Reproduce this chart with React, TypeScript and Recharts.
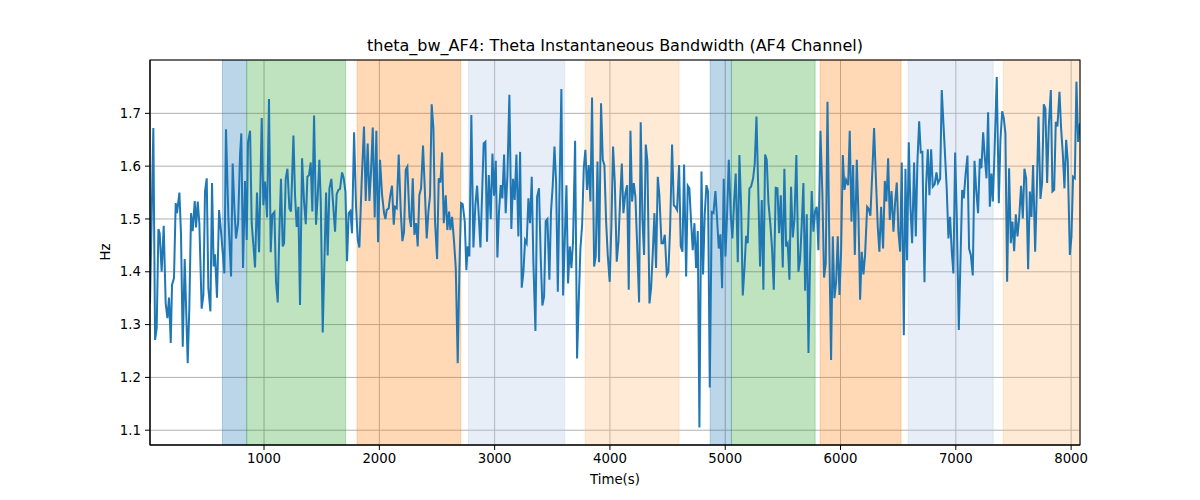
import React from 'react';
import { ComposedChart, Line, XAxis, YAxis, CartesianGrid, ReferenceArea } from 'recharts';

const TIME_S: number[] = [
  11, 40, 55, 69, 84, 95, 112, 130, 147, 162, 176, 191, 202, 219, 234, 245, 266, 280, 295, 312,
  338, 352, 367, 381, 399, 410, 425, 439, 459, 474, 488, 503, 517, 535, 549, 563, 575, 592, 610, 627,
  656, 670, 691, 714, 728, 743, 757, 775, 792, 803, 818, 835, 850, 861, 879, 893, 910, 922, 939, 957,
  980, 994, 1009, 1026, 1043, 1058, 1072, 1090, 1104, 1119, 1133, 1147, 1162,
  1174, 1188, 1203, 1220, 1234, 1255, 1269, 1283, 1298, 1312, 1330, 1347, 1362, 1376, 1390, 1405, 1419, 1434, 1451, 1466,
  1480, 1492, 1509, 1538, 1552, 1567, 1584, 1601, 1616, 1630, 1645, 1659, 1677, 1691, 1706, 1720, 1734, 1749, 1763, 1781,
  1798, 1813, 1827, 1847, 1867, 1882, 1899, 1914, 1928, 1943, 1960, 1974, 1989, 2006, 2024, 2041, 2053, 2064, 2081, 2093,
  2110, 2125, 2136, 2151, 2168, 2186, 2200, 2214, 2229, 2243, 2261, 2275, 2290, 2304, 2319, 2333,
  2347, 2362, 2379, 2394, 2411, 2426, 2440, 2454, 2469, 2483, 2501, 2515, 2530, 2544, 2559, 2576, 2590, 2605, 2616, 2631,
  2648, 2663, 2680, 2694, 2709, 2723, 2741, 2755, 2767, 2781, 2798, 2816, 2833, 2848, 2862, 2877, 2891, 2905, 2920, 2934,
  2949, 2966, 2981, 2995, 3010, 3024, 3038, 3053, 3067, 3082, 3096, 3111, 3128, 3145, 3160, 3174, 3189, 3206, 3221, 3235,
  3250, 3264, 3278, 3293, 3307, 3322, 3336, 3354, 3368, 3385, 3400, 3414, 3429, 3443, 3458, 3475, 3489, 3504, 3519,
  3533, 3548, 3562, 3579, 3594, 3608, 3623, 3637, 3652, 3666, 3680, 3698, 3715, 3730, 3744, 3759, 3773, 3787, 3802, 3816,
  3831, 3845, 3863, 3877, 3892, 3906, 3923, 3938, 3952, 3967, 3981, 3998, 4013, 4027, 4042, 4059, 4074, 4088, 4103, 4117,
  4134, 4149, 4163, 4178, 4192, 4207, 4221, 4236, 4253, 4267, 4282, 4296, 4311, 4325, 4343, 4357, 4371, 4386, 4400, 4415,
  4429, 4447, 4461, 4476, 4493, 4507, 4522, 4539, 4554, 4568, 4582, 4600, 4614, 4629, 4643, 4661, 4675, 4689,
  4704, 4718, 4733, 4747, 4762, 4776, 4794, 4808, 4822, 4837, 4851, 4866, 4883, 4898, 4915, 4929, 4944, 4958, 4973, 4987,
  5002, 5016, 5031, 5048, 5062, 5077, 5091, 5109, 5123, 5138, 5152, 5167, 5181, 5195, 5210, 5224, 5242, 5256, 5271, 5285,
  5302, 5317, 5331, 5346, 5360, 5375, 5392, 5406, 5421, 5438, 5453, 5467, 5482, 5499, 5513, 5528, 5542, 5557, 5571, 5586,
  5600, 5617, 5635, 5649, 5664, 5678, 5693, 5707, 5722, 5736, 5750, 5765, 5779, 5794, 5808, 5826, 5843, 5857,
  5872, 5887, 5904, 5918, 5933, 5947, 5962, 5976, 5991, 6005, 6020, 6034, 6048, 6066, 6080, 6095, 6109, 6124, 6141, 6155,
  6170, 6184, 6199, 6213, 6231, 6245, 6259, 6277, 6291, 6309, 6323, 6337, 6352, 6369, 6384, 6398, 6413, 6427, 6442, 6459,
  6473, 6488, 6502, 6517, 6531, 6549, 6563, 6577, 6592, 6606, 6621, 6638, 6653, 6667, 6682, 6696, 6710, 6728, 6742, 6757,
  6771, 6786, 6800, 6817, 6832, 6846, 6864, 6878, 6921, 6936, 6950, 6965, 6979, 6994, 7008, 7026,
  7040, 7055, 7069, 7084, 7101, 7115, 7130, 7147, 7162, 7176, 7193, 7208, 7222, 7237, 7251, 7266, 7280, 7295, 7309, 7321,
  7335, 7355, 7373, 7387, 7402, 7416, 7430, 7445, 7462, 7477, 7491, 7506, 7520, 7535, 7549, 7566, 7581, 7595, 7610, 7627,
  7642, 7656, 7670, 7688, 7702, 7717, 7734, 7748, 7763, 7777, 7792, 7806, 7824, 7838, 7853, 7867, 7881, 7899, 7913, 7928,
  7942, 7957, 7971, 7989, 8003, 8017, 8032, 8046, 8061, 8077,
];

const THETA_BW_HZ: number[] = [
  1.340, 1.672, 1.271, 1.293, 1.481, 1.473, 1.400, 1.487, 1.340, 1.312, 1.351, 1.265, 1.375, 1.388, 1.530, 1.511, 1.550, 1.470, 1.258, 1.424,
  1.227, 1.331, 1.511, 1.477, 1.534, 1.484, 1.533, 1.492, 1.330, 1.356, 1.552, 1.577, 1.369, 1.325, 1.568, 1.410, 1.433, 1.351, 1.517, 1.476,
  1.397, 1.670, 1.501, 1.391, 1.605, 1.520, 1.463, 1.492, 1.622, 1.662, 1.407, 1.572, 1.460, 1.645, 1.667, 1.492, 1.444, 1.408, 1.550, 1.437,
  1.691, 1.526, 1.571, 1.503, 1.727, 1.437, 1.508, 1.513, 1.381, 1.342, 1.476, 1.576, 1.448,
  1.454, 1.576, 1.595, 1.520, 1.514, 1.658, 1.545, 1.485, 1.523, 1.337, 1.615, 1.533, 1.490, 1.580, 1.583, 1.607, 1.514, 1.696, 1.489, 1.545,
  1.612, 1.533, 1.285, 1.550, 1.431, 1.558, 1.576, 1.523, 1.476, 1.547, 1.555, 1.557, 1.588, 1.577, 1.552, 1.420, 1.511, 1.515, 1.473, 1.664,
  1.523, 1.460, 1.446, 1.572, 1.675, 1.534, 1.643, 1.534, 1.590, 1.673, 1.503, 1.667, 1.456, 1.612, 1.545, 1.511, 1.500, 1.517, 1.520, 1.542,
  1.563, 1.489, 1.523, 1.520, 1.622, 1.514, 1.458, 1.475, 1.593, 1.599, 1.504, 1.485, 1.577, 1.470, 1.492, 1.448,
  1.545, 1.558, 1.639, 1.558, 1.463, 1.515, 1.545, 1.717, 1.672, 1.495, 1.424, 1.577, 1.569, 1.626, 1.492, 1.545, 1.479, 1.514, 1.479, 1.504,
  1.457, 1.407, 1.227, 1.400, 1.530, 1.528, 1.495, 1.403, 1.448, 1.429, 1.697, 1.446, 1.526, 1.563, 1.508, 1.446, 1.545, 1.643, 1.646, 1.457,
  1.583, 1.500, 1.624, 1.544, 1.610, 1.427, 1.514, 1.564, 1.539, 1.622, 1.511, 1.583, 1.735, 1.481, 1.576, 1.536, 1.622, 1.467, 1.627, 1.370,
  1.400, 1.460, 1.454, 1.539, 1.492, 1.580, 1.419, 1.288, 1.542, 1.558, 1.426, 1.336, 1.353, 1.496, 1.500, 1.385, 1.514, 1.564, 1.637,
  1.571, 1.362, 1.545, 1.746, 1.355, 1.457, 1.564, 1.378, 1.448, 1.407, 1.457, 1.648, 1.236, 1.347, 1.444, 1.489, 1.596, 1.631, 1.555, 1.602,
  1.533, 1.730, 1.410, 1.429, 1.609, 1.418, 1.719, 1.612, 1.602, 1.495, 1.432, 1.381, 1.489, 1.637, 1.571, 1.419, 1.457, 1.533, 1.605, 1.511,
  1.549, 1.564, 1.366, 1.667, 1.533, 1.568, 1.542, 1.451, 1.342, 1.683, 1.501, 1.432, 1.641, 1.609, 1.340, 1.369, 1.432, 1.511, 1.407, 1.580,
  1.545, 1.454, 1.454, 1.470, 1.394, 1.400, 1.482, 1.641, 1.526, 1.523, 1.517, 1.602, 1.448, 1.438, 1.603, 1.391, 1.563, 1.558,
  1.495, 1.441, 1.492, 1.407, 1.477, 1.105, 1.590, 1.395, 1.508, 1.564, 1.552, 1.181, 1.513, 1.511, 1.553, 1.501, 1.444, 1.471, 1.369, 1.576,
  1.429, 1.508, 1.612, 1.508, 1.463, 1.533, 1.586, 1.418, 1.621, 1.523, 1.355, 1.407, 1.468, 1.454, 1.558, 1.561, 1.577, 1.605, 1.694, 1.568,
  1.410, 1.536, 1.366, 1.622, 1.612, 1.530, 1.489, 1.444, 1.366, 1.559, 1.558, 1.473, 1.545, 1.408, 1.595, 1.448, 1.454, 1.385, 1.561, 1.465,
  1.498, 1.621, 1.400, 1.422, 1.492, 1.568, 1.364, 1.509, 1.246, 1.426, 1.553, 1.476, 1.514, 1.523, 1.441, 1.667, 1.545, 1.389,
  1.416, 1.722, 1.432, 1.233, 1.467, 1.350, 1.381, 1.467, 1.356, 1.438, 1.621, 1.555, 1.574, 1.564, 1.667, 1.495, 1.602, 1.432, 1.612, 1.511,
  1.347, 1.438, 1.395, 1.432, 1.523, 1.519, 1.506, 1.596, 1.672, 1.564, 1.485, 1.438, 1.523, 1.444, 1.572, 1.533, 1.615, 1.498, 1.553, 1.476,
  1.530, 1.569, 1.476, 1.438, 1.607, 1.280, 1.595, 1.422, 1.645, 1.526, 1.454, 1.607, 1.467, 1.609, 1.685, 1.626, 1.627, 1.380, 1.561, 1.632,
  1.545, 1.632, 1.561, 1.566, 1.588, 1.568, 1.576, 1.744, 1.558, 1.463, 1.504, 1.438, 1.397, 1.626, 1.508, 1.290,
  1.419, 1.555, 1.539, 1.583, 1.620, 1.444, 1.432, 1.393, 1.610, 1.558, 1.511, 1.614, 1.596, 1.664, 1.618, 1.577, 1.702, 1.523, 1.586, 1.533,
  1.621, 1.769, 1.530, 1.650, 1.704, 1.691, 1.662, 1.381, 1.596, 1.454, 1.495, 1.439, 1.509, 1.467, 1.501, 1.563, 1.501, 1.595, 1.577, 1.405,
  1.552, 1.504, 1.602, 1.438, 1.549, 1.694, 1.538, 1.568, 1.717, 1.709, 1.568, 1.675, 1.744, 1.552, 1.555, 1.684, 1.675, 1.741, 1.672, 1.624,
  1.558, 1.650, 1.609, 1.432, 1.467, 1.580, 1.577, 1.760, 1.646, 1.681,
];

const SPAN_START: number[] = [639, 850, 1807, 2773, 3785, 4869, 5054, 5823, 6586, 7411];
const SPAN_END: number[] = [850, 1708, 2706, 3608, 4600, 5054, 5780, 6525, 7324, 8077];
const SPAN_COLOR: string[] = [
  '#1f77b4', '#2ca02c', '#ff7f0e', '#aec7e8', '#ffbb78',
  '#1f77b4', '#2ca02c', '#ff7f0e', '#aec7e8', '#ffbb78',
];

const X_TICKS: number[] = [1000, 2000, 3000, 4000, 5000, 6000, 7000, 8000];
const Y_TICKS: number[] = [1.1, 1.2, 1.3, 1.4, 1.5, 1.6, 1.7];
const X_DOMAIN: [number, number] = [11, 8077];
const Y_DOMAIN: [number, number] = [1.072, 1.801];

const TITLE = 'theta_bw_AF4: Theta Instantaneous Bandwidth (AF4 Channel)';
const X_LABEL = 'Time(s)';
const Y_LABEL = 'Hz';

const rows = TIME_S.map((t, i) => ({ t, v: THETA_BW_HZ[i] }));

const FONT = '"DejaVu Sans", sans-serif';
const tickStyle = { fill: '#000', fontSize: 13.3, fontFamily: FONT };

export default function App() {
  return (
    <div style={{ position: 'absolute', left: 0, top: 0, width: 1200, height: 500, background: '#fff' }}>
      <div
        style={{
          position: 'absolute', left: 150, width: 930, top: 36, textAlign: 'center',
          fontFamily: FONT, fontSize: 16, color: '#000', lineHeight: '20px',
        }}
      >
        {TITLE}
      </div>
      <div
        style={{
          position: 'absolute', left: 150, width: 930, top: 472, textAlign: 'center',
          fontFamily: FONT, fontSize: 13.3, color: '#000', lineHeight: '16px',
        }}
      >
        {X_LABEL}
      </div>
      <div
        style={{
          position: 'absolute', left: 86, top: 244, width: 40, textAlign: 'center',
          fontFamily: FONT, fontSize: 13.3, color: '#000', lineHeight: '16px',
          transform: 'rotate(-90deg)',
        }}
      >
        {Y_LABEL}
      </div>
      <ComposedChart
        width={1200}
        height={500}
        data={rows}
        margin={{ top: 60, right: 120, bottom: 0, left: 0 }}
      >
        <CartesianGrid stroke="#b0b0b0" strokeWidth={1} />
        {SPAN_START.map((s, i) => (
          <ReferenceArea
            key={i}
            x1={s}
            x2={SPAN_END[i]}
            fill={SPAN_COLOR[i]}
            fillOpacity={0.3}
            stroke={SPAN_COLOR[i]}
            strokeOpacity={0.3}
            ifOverflow="hidden"
          />
        ))}
        <XAxis
          dataKey="t"
          type="number"
          domain={X_DOMAIN}
          ticks={X_TICKS}
          allowDataOverflow
          height={55}
          tick={tickStyle}
          tickSize={5}
          tickMargin={4}
          axisLine={{ stroke: '#000' }}
          tickLine={{ stroke: '#000' }}
        />
        <XAxis
          xAxisId="top"
          orientation="top"
          dataKey="t"
          type="number"
          domain={X_DOMAIN}
          allowDataOverflow
          height={0}
          tick={false}
          tickLine={false}
          axisLine={{ stroke: '#000' }}
        />
        <YAxis
          type="number"
          domain={Y_DOMAIN}
          ticks={Y_TICKS}
          allowDataOverflow
          width={150}
          tick={tickStyle}
          tickSize={5}
          tickMargin={4}
          tickFormatter={(v: number) => v.toFixed(1)}
          axisLine={{ stroke: '#000' }}
          tickLine={{ stroke: '#000' }}
        />
        <YAxis
          yAxisId="right"
          orientation="right"
          type="number"
          domain={Y_DOMAIN}
          allowDataOverflow
          width={0}
          tick={false}
          tickLine={false}
          axisLine={{ stroke: '#000' }}
        />
        <Line
          type="linear"
          dataKey="v"
          stroke="#1f77b4"
          strokeWidth={2}
          dot={false}
          activeDot={false}
          isAnimationActive={false}
        />
      </ComposedChart>
      <svg
        width={1200}
        height={500}
        style={{ position: 'absolute', left: 0, top: 0, pointerEvents: 'none' }}
      >
        <rect x={150} y={60} width={930} height={385} fill="none" stroke="#000" strokeWidth={1} />
      </svg>
    </div>
  );
}
